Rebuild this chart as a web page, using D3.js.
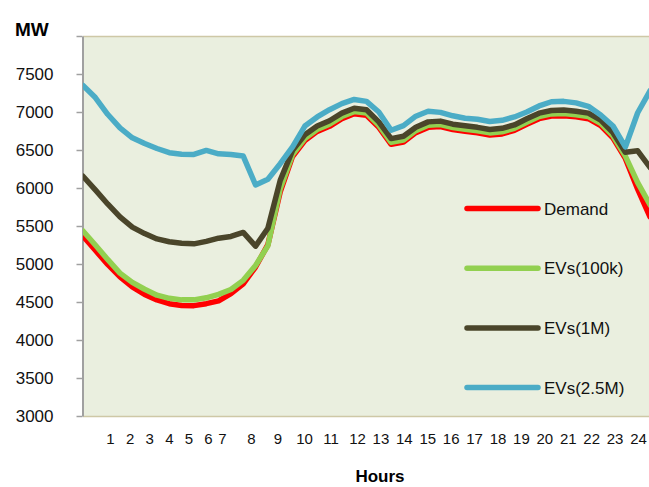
<!DOCTYPE html>
<html><head><meta charset="utf-8">
<script src="https://cdn.jsdelivr.net/npm/d3@7"></script>
<style>
body{margin:0;background:#fff;}
svg{display:block;font-family:"Liberation Sans",Arial,sans-serif;}
</style></head><body>
<svg id="c" width="649" height="487"></svg>
<script>
// ---- data (hour of day, MW) ----
const hours = [1,1.5,2,2.5,3,3.5,4,4.5,5,5.5,6,6.5,7,7.5,8,8.5,9,9.5,10,10.5,11,11.5,12,12.5,13,13.5,14,14.5,15,15.5,16,16.5,17,17.5,18,18.5,19,19.5,20,20.5,21,21.5,22,22.5,23,23.5,24];
const demand = [5368,5180,4995,4830,4700,4600,4528,4478,4455,4452,4478,4515,4610,4740,4960,5255,5950,6415,6625,6745,6812,6912,6978,6958,6798,6575,6605,6728,6798,6808,6768,6746,6726,6698,6712,6758,6838,6912,6948,6952,6938,6912,6822,6658,6390,5985,5620];
const evs100k = [5435,5250,5060,4880,4758,4668,4590,4548,4528,4528,4555,4600,4665,4785,4980,5240,5990,6440,6650,6770,6840,6940,7005,6985,6825,6600,6630,6755,6825,6835,6795,6773,6753,6725,6740,6785,6865,6940,6975,6980,6965,6940,6850,6685,6420,6070,5780];
const evs1M = [6155,5975,5790,5620,5485,5400,5330,5293,5272,5265,5298,5340,5362,5415,5235,5470,6100,6495,6700,6815,6885,6985,7050,7030,6870,6650,6680,6800,6870,6880,6840,6818,6798,6770,6785,6830,6910,6985,7020,7025,7010,6985,6895,6728,6470,6490,6270];
const evs25M = [7350,7190,6970,6790,6660,6585,6520,6465,6445,6442,6495,6450,6440,6420,6040,6115,6320,6540,6815,6935,7030,7110,7165,7140,7000,6760,6820,6945,7010,6995,6950,6918,6905,6875,6890,6935,7000,7080,7135,7140,7120,7075,6960,6816,6540,6990,7280];
const seriesNames = ["Demand","EVs(100k)","EVs(1M)","EVs(2.5M)"];
const seriesColors = ["#FF0000","#92D050","#4A452A","#4BACC6"];
const yTicks = [3000,3500,4000,4500,5000,5500,6000,6500,7000,7500,8000];
const hourLabels = [1,2,3,4,5,6,7,8,9,10,11,12,13,14,15,16,17,18,19,20,21,22,23,24];

// ---- layout ----
const L = 83, R = 650, T = 36, B = 416;
const svg = d3.select("#c");
const x = d3.scaleLinear().domain([1,24]).range([L,R]);
// tick labels in the source image are placed unevenly
const xLab = d3.scaleLinear().domain([1,6,7,8,12,24]).range([110,208,222,251,357,638]);
const y = d3.scaleLinear().domain([3000,8000]).range([B,T]);

// plot background
svg.append("rect").attr("x",L+1).attr("y",T).attr("width",649-L).attr("height",B-T).attr("fill","#EAEFDF");
svg.append("line").attr("x1",L).attr("x2",649).attr("y1",T+0.5).attr("y2",T+0.5).attr("stroke","#CEC8A6").attr("stroke-width",1.5);
svg.append("line").attr("x1",L).attr("x2",649).attr("y1",B+0.5).attr("y2",B+0.5).attr("stroke","#CEC8A6").attr("stroke-width",1.5);

// y axis
const yAxis = svg.append("g").attr("transform",`translate(${L-0.5},0)`)
  .call(d3.axisLeft(y).tickValues(yTicks).tickSize(6).tickSizeOuter(0).tickPadding(23)
    .tickFormat(d => d === 8000 ? "" : d));
yAxis.select(".domain").attr("stroke","#A0A0A0").attr("stroke-width",2);
yAxis.selectAll(".tick line").attr("stroke","#A0A0A0").attr("stroke-width",1.5);
yAxis.selectAll(".tick text").attr("font-size",17).attr("fill","#111").attr("font-family","'Liberation Sans',Arial,sans-serif");

// x axis labels
const xAxis = svg.append("g").attr("transform",`translate(0,${B})`)
  .call(d3.axisBottom(xLab).tickValues(hourLabels).tickSize(0).tickPadding(17).tickFormat(d3.format("d")));
xAxis.select(".domain").remove();
xAxis.selectAll(".tick text").attr("font-size",15).attr("fill","#111").attr("font-family","'Liberation Sans',Arial,sans-serif");

// titles
svg.append("text").attr("x",15).attr("y",36).attr("font-size",19).attr("font-weight","bold").attr("fill","#000").text("MW");
svg.append("text").attr("x",380).attr("y",482).attr("text-anchor","middle").attr("font-size",17).attr("font-weight","bold").attr("fill","#000").text("Hours");

// series
const seriesData = [demand, evs100k, evs1M, evs25M];
const line = d3.line().x((d,i) => x(hours[i])).y(d => y(d));
svg.append("clipPath").attr("id","pc").append("rect").attr("x",L).attr("y",0).attr("width",649-L).attr("height",B);
const g = svg.append("g").attr("clip-path","url(#pc)");
seriesData.forEach((vals,k) => {
  g.append("path").datum(vals).attr("d",line).attr("fill","none")
    .attr("stroke",seriesColors[k]).attr("stroke-width",5.5)
    .attr("stroke-linejoin","round").attr("stroke-linecap","round");
});

// legend
const legX1 = 467, legX2 = 538, legY0 = 208.5, legDy = 59.7;
seriesNames.forEach((name,k) => {
  const yy = legY0 + k*legDy;
  svg.append("line").attr("x1",legX1).attr("x2",legX2).attr("y1",yy).attr("y2",yy)
    .attr("stroke",seriesColors[k]).attr("stroke-width",5.5).attr("stroke-linecap","round");
  svg.append("text").attr("x",legX2+6).attr("y",yy).attr("dy","0.36em").attr("font-size",17).attr("fill","#111").text(name);
});
</script>
</body></html>
